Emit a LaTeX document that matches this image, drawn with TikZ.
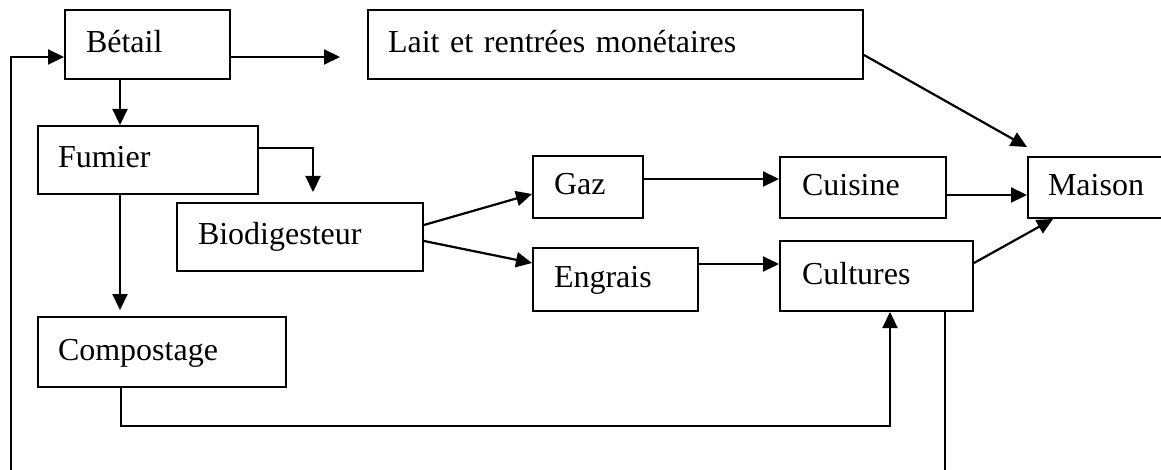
\documentclass[tikz,border=0pt]{standalone}
\usepackage{fontspec}
\setmainfont{Liberation Serif}
\usetikzlibrary{arrows.meta}
\begin{document}
\begin{tikzpicture}[x=1pt,y=-1pt,
  box/.style={draw,line width=2pt,align=left,inner ysep=0pt,
    text height=24pt,text depth=8pt,font=\fontsize{32}{38}\selectfont},
  arr/.style={line width=2.2pt,-{Triangle[length=16pt,width=15pt]}},
  ln/.style={line width=2.2pt}]
\useasboundingbox (0,0) rectangle (1161,470);
% boxes
\node[box,minimum width=165pt,minimum height=69pt,inner xsep=21pt,text width=123pt] (betail) at (147.5,44.5) {Bétail};
\node[box,minimum width=495pt,minimum height=69pt,inner xsep=20pt,text width=455pt] (lait) at (615.5,44.5) {Lait et rentrées monétaires};
\node[box,minimum width=220pt,minimum height=68pt,inner xsep=20pt,text width=180pt] (fumier) at (148,160) {Fumier};
\node[box,minimum width=246pt,minimum height=68pt,inner xsep=21pt,text width=204pt] (bio) at (300,237) {Biodigesteur};
\node[box,minimum width=248pt,minimum height=70pt,inner xsep=20pt,text width=208pt] (compost) at (162,352) {Compostage};
\node[box,minimum width=110pt,minimum height=62pt,inner xsep=21pt,text width=68pt] (gaz) at (588,187) {Gaz};
\node[box,minimum width=165pt,minimum height=63pt,inner xsep=21pt,text width=123pt] (engrais) at (615.5,279.5) {Engrais};
\node[box,minimum width=166pt,minimum height=61pt,inner xsep=22pt,text width=122pt] (cuisine) at (863,187.5) {Cuisine};
\node[box,minimum width=193pt,minimum height=70pt,inner xsep=22pt,text width=149pt] (cultures) at (876.5,276) {Cultures};
\node[box,minimum width=140pt,minimum height=61pt,inner xsep=20pt,text width=100pt] (maison) at (1098,187.5) {Maison};
% free ends
\coordinate (laitin) at (340,57);
\coordinate (loopL) at (11,470);
\coordinate (loopR) at (945,470);
\coordinate (bottomC) at (890,426);
% connectors
\draw[arr] (betail.east |- laitin) -- (laitin);
\draw[arr] (loopL) |- ([yshift=-12.5pt]betail.west);
\draw[arr] ([xshift=-27.5pt]betail.south) -- ([xshift=-28pt]fumier.north);
\draw[arr] ([yshift=12pt]fumier.east) -| ([xshift=13pt,yshift=10pt]bio.north);
\draw[arr] ([xshift=-28pt]fumier.south) -- ([xshift=-42pt,yshift=6pt]compost.north);
\draw[arr] ([xshift=-41pt]compost.south) |- (bottomC) -- ([xshift=13.5pt]cultures.south);
\draw[ln] ([xshift=68.5pt]cultures.south) -- (loopR);
\draw[arr] ([yshift=12pt]bio.east) -- ([yshift=-7pt]gaz.west);
\draw[arr] ([yshift=-4pt]bio.east) -- ([yshift=16.5pt]engrais.west);
\draw[arr] ([yshift=8pt]gaz.east) -- ([yshift=8pt]gaz.east -| cuisine.west);
\draw[arr] ([yshift=15.5pt]engrais.east) -- ([yshift=15.5pt]engrais.east -| cultures.west);
\draw[arr] ([yshift=-7.5pt]cuisine.east) -- ([yshift=-7.5pt]cuisine.east -| maison.west);
\draw[arr] ([yshift=13pt]cultures.east) -- ([xshift=-45pt]maison.south);
\draw[arr] ([yshift=-10.5pt]lait.east) -- ([xshift=-71pt,yshift=9pt]maison.north);
\end{tikzpicture}
\end{document}
